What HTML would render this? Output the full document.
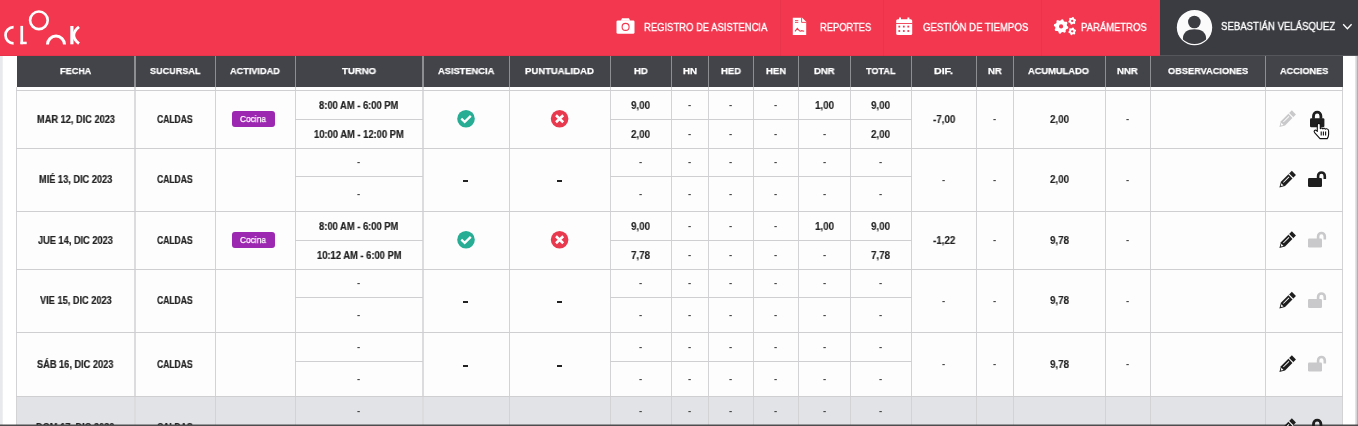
<!DOCTYPE html><html><head><meta charset="utf-8"><style>
*{margin:0;padding:0;box-sizing:border-box}
html,body{width:1358px;height:426px;overflow:hidden;background:#fff;font-family:"Liberation Sans",sans-serif}
.t{position:absolute;white-space:nowrap;transform-origin:0 50%;-webkit-font-smoothing:antialiased;will-change:transform}
.a{position:absolute}
</style></head><body>
<div class="a" style="left:0;top:56px;width:3px;height:370px;background:linear-gradient(90deg,#e8e9ec 60%,#f3f3f5)"></div>
<div class="a" style="left:1355px;top:56px;width:3px;height:370px;background:linear-gradient(90deg,#ebebee,#d0d0d3 60%,#9a9a9d)"></div>
<div class="a" style="left:16px;top:90px;width:1327px;height:336px;background:#fdfdfd"></div>
<div class="a" style="left:16px;top:396px;width:1327px;height:30px;background:#e2e3e6"></div>
<div class="a" style="left:17px;top:56px;width:1326px;height:31px;background:#43444a"></div>
<div class="a" style="left:134px;top:56px;width:2px;height:31px;background:#8d8e92"></div>
<div class="a" style="left:215px;top:56px;width:1px;height:31px;background:#8d8e92"></div>
<div class="a" style="left:295px;top:56px;width:1px;height:31px;background:#8d8e92"></div>
<div class="a" style="left:422px;top:56px;width:2px;height:31px;background:#8d8e92"></div>
<div class="a" style="left:509px;top:56px;width:1px;height:31px;background:#8d8e92"></div>
<div class="a" style="left:610px;top:56px;width:1px;height:31px;background:#8d8e92"></div>
<div class="a" style="left:671px;top:56px;width:1px;height:31px;background:#8d8e92"></div>
<div class="a" style="left:708px;top:56px;width:1px;height:31px;background:#8d8e92"></div>
<div class="a" style="left:753px;top:56px;width:1px;height:31px;background:#8d8e92"></div>
<div class="a" style="left:798px;top:56px;width:1px;height:31px;background:#8d8e92"></div>
<div class="a" style="left:850px;top:56px;width:1px;height:31px;background:#8d8e92"></div>
<div class="a" style="left:911px;top:56px;width:1px;height:31px;background:#8d8e92"></div>
<div class="a" style="left:976px;top:56px;width:1px;height:31px;background:#8d8e92"></div>
<div class="a" style="left:1013px;top:56px;width:1px;height:31px;background:#8d8e92"></div>
<div class="a" style="left:1105px;top:56px;width:1px;height:31px;background:#8d8e92"></div>
<div class="a" style="left:1150px;top:56px;width:1px;height:31px;background:#8d8e92"></div>
<div class="a" style="left:1265px;top:56px;width:1px;height:31px;background:#8d8e92"></div>
<div class="a" style="left:16px;top:87px;width:1px;height:339px;background:#d3d3d6"></div>
<div class="a" style="left:134px;top:87px;width:2px;height:339px;background:#dcdcdf"></div>
<div class="a" style="left:215px;top:87px;width:1px;height:339px;background:#d3d3d6"></div>
<div class="a" style="left:295px;top:87px;width:1px;height:339px;background:#d3d3d6"></div>
<div class="a" style="left:422px;top:87px;width:2px;height:339px;background:#dcdcdf"></div>
<div class="a" style="left:509px;top:87px;width:1px;height:339px;background:#d3d3d6"></div>
<div class="a" style="left:610px;top:87px;width:1px;height:339px;background:#d3d3d6"></div>
<div class="a" style="left:671px;top:87px;width:1px;height:339px;background:#d3d3d6"></div>
<div class="a" style="left:708px;top:87px;width:1px;height:339px;background:#d3d3d6"></div>
<div class="a" style="left:753px;top:87px;width:1px;height:339px;background:#d3d3d6"></div>
<div class="a" style="left:798px;top:87px;width:1px;height:339px;background:#d3d3d6"></div>
<div class="a" style="left:850px;top:87px;width:1px;height:339px;background:#d3d3d6"></div>
<div class="a" style="left:911px;top:87px;width:1px;height:339px;background:#d3d3d6"></div>
<div class="a" style="left:976px;top:87px;width:1px;height:339px;background:#d3d3d6"></div>
<div class="a" style="left:1013px;top:87px;width:1px;height:339px;background:#d3d3d6"></div>
<div class="a" style="left:1105px;top:87px;width:1px;height:339px;background:#d3d3d6"></div>
<div class="a" style="left:1150px;top:87px;width:1px;height:339px;background:#d3d3d6"></div>
<div class="a" style="left:1265px;top:87px;width:1px;height:339px;background:#d3d3d6"></div>
<div class="a" style="left:1342px;top:87px;width:1px;height:339px;background:#d3d3d6"></div>
<div class="a" style="left:16px;top:90px;width:1327px;height:1px;background:#cfcfd2"></div>
<div class="a" style="left:295px;top:119px;width:128px;height:1px;background:#cfcfd2"></div>
<div class="a" style="left:610px;top:119px;width:302px;height:1px;background:#cfcfd2"></div>
<div class="a" style="left:16px;top:148px;width:1327px;height:1px;background:#cfcfd2"></div>
<div class="a" style="left:295px;top:176px;width:128px;height:1px;background:#cfcfd2"></div>
<div class="a" style="left:610px;top:176px;width:302px;height:1px;background:#cfcfd2"></div>
<div class="a" style="left:16px;top:211px;width:1327px;height:1px;background:#cfcfd2"></div>
<div class="a" style="left:295px;top:240px;width:128px;height:1px;background:#cfcfd2"></div>
<div class="a" style="left:610px;top:240px;width:302px;height:1px;background:#cfcfd2"></div>
<div class="a" style="left:16px;top:269px;width:1327px;height:1px;background:#cfcfd2"></div>
<div class="a" style="left:295px;top:297px;width:128px;height:1px;background:#cfcfd2"></div>
<div class="a" style="left:610px;top:297px;width:302px;height:1px;background:#cfcfd2"></div>
<div class="a" style="left:16px;top:332px;width:1327px;height:1px;background:#cfcfd2"></div>
<div class="a" style="left:295px;top:361px;width:128px;height:1px;background:#cfcfd2"></div>
<div class="a" style="left:610px;top:361px;width:302px;height:1px;background:#cfcfd2"></div>
<div class="a" style="left:16px;top:396px;width:1327px;height:1px;background:#cfcfd2"></div>
<div class="a" style="left:295px;top:425px;width:128px;height:1px;background:#cfcfd2"></div>
<div class="a" style="left:610px;top:425px;width:302px;height:1px;background:#cfcfd2"></div>
<div class="t" style="left:60.00px;top:66.46px;font-size:9.7px;line-height:10.83px;font-weight:700;color:#fff;transform:scaleX(0.9397);-webkit-text-stroke:0.25px #fff">FECHA</div>
<div class="t" style="left:149.90px;top:66.46px;font-size:9.7px;line-height:10.83px;font-weight:700;color:#fff;transform:scaleX(0.9354);-webkit-text-stroke:0.25px #fff">SUCURSAL</div>
<div class="t" style="left:230.20px;top:66.46px;font-size:9.7px;line-height:10.83px;font-weight:700;color:#fff;transform:scaleX(0.9448);-webkit-text-stroke:0.25px #fff">ACTIVIDAD</div>
<div class="t" style="left:342.00px;top:66.46px;font-size:9.7px;line-height:10.83px;font-weight:700;color:#fff;transform:scaleX(0.9860);-webkit-text-stroke:0.25px #fff">TURNO</div>
<div class="t" style="left:437.50px;top:66.46px;font-size:9.7px;line-height:10.83px;font-weight:700;color:#fff;transform:scaleX(0.9586);-webkit-text-stroke:0.25px #fff">ASISTENCIA</div>
<div class="t" style="left:525.40px;top:66.46px;font-size:9.7px;line-height:10.83px;font-weight:700;color:#fff;transform:scaleX(0.9838);-webkit-text-stroke:0.25px #fff">PUNTUALIDAD</div>
<div class="t" style="left:633.60px;top:66.46px;font-size:9.7px;line-height:10.83px;font-weight:700;color:#fff;transform:scaleX(0.9774);-webkit-text-stroke:0.25px #fff">HD</div>
<div class="t" style="left:682.60px;top:66.46px;font-size:9.7px;line-height:10.83px;font-weight:700;color:#fff;transform:scaleX(1.0060);-webkit-text-stroke:0.25px #fff">HN</div>
<div class="t" style="left:720.80px;top:66.46px;font-size:9.7px;line-height:10.83px;font-weight:700;color:#fff;transform:scaleX(0.9772);-webkit-text-stroke:0.25px #fff">HED</div>
<div class="t" style="left:765.50px;top:66.46px;font-size:9.7px;line-height:10.83px;font-weight:700;color:#fff;transform:scaleX(0.9821);-webkit-text-stroke:0.25px #fff">HEN</div>
<div class="t" style="left:814.20px;top:66.46px;font-size:9.7px;line-height:10.83px;font-weight:700;color:#fff;transform:scaleX(0.9762);-webkit-text-stroke:0.25px #fff">DNR</div>
<div class="t" style="left:866.00px;top:66.46px;font-size:9.7px;line-height:10.83px;font-weight:700;color:#fff;transform:scaleX(0.9387);-webkit-text-stroke:0.25px #fff">TOTAL</div>
<div class="t" style="left:934.30px;top:66.46px;font-size:9.7px;line-height:10.83px;font-weight:700;color:#fff;transform:scaleX(1.0946);-webkit-text-stroke:0.25px #fff">DIF.</div>
<div class="t" style="left:987.80px;top:66.46px;font-size:9.7px;line-height:10.83px;font-weight:700;color:#fff;transform:scaleX(0.9774);-webkit-text-stroke:0.25px #fff">NR</div>
<div class="t" style="left:1028.10px;top:66.46px;font-size:9.7px;line-height:10.83px;font-weight:700;color:#fff;transform:scaleX(0.9594);-webkit-text-stroke:0.25px #fff">ACUMULADO</div>
<div class="t" style="left:1117.40px;top:66.46px;font-size:9.7px;line-height:10.83px;font-weight:700;color:#fff;transform:scaleX(0.9857);-webkit-text-stroke:0.25px #fff">NNR</div>
<div class="t" style="left:1168.00px;top:66.46px;font-size:9.7px;line-height:10.83px;font-weight:700;color:#fff;transform:scaleX(0.9520);-webkit-text-stroke:0.25px #fff">OBSERVACIONES</div>
<div class="t" style="left:1279.50px;top:66.46px;font-size:9.7px;line-height:10.83px;font-weight:700;color:#fff;transform:scaleX(0.9431);-webkit-text-stroke:0.25px #fff">ACCIONES</div>
<div class="t" style="left:36.50px;top:113.67px;font-size:10.4px;line-height:11.62px;font-weight:700;color:#222;transform:scaleX(0.8876);-webkit-text-stroke:0.2px #222">MAR 12, DIC 2023</div>
<div class="t" style="left:157.15px;top:113.67px;font-size:10.4px;line-height:11.62px;font-weight:700;color:#222;transform:scaleX(0.8242);-webkit-text-stroke:0.2px #222">CALDAS</div>
<div class="a" style="left:232px;top:110.9px;width:43px;height:16px;border-radius:3px;background:#9c27b0"></div>
<div class="t" style="left:239.80px;top:114.04px;font-size:9.2px;line-height:10.28px;font-weight:400;color:#fff;transform:scaleX(0.9073);-webkit-text-stroke:0.25px #fff">Cocina</div>
<div class="t" style="left:319.30px;top:99.75px;font-size:10.6px;line-height:11.84px;font-weight:700;color:#222;transform:scaleX(0.8849);-webkit-text-stroke:0.2px #222">8:00 AM - 6:00 PM</div>
<div class="t" style="left:314.07px;top:128.75px;font-size:10.6px;line-height:11.84px;font-weight:700;color:#222;transform:scaleX(0.8849);-webkit-text-stroke:0.2px #222">10:00 AM - 12:00 PM</div>
<div class="t" style="left:631.45px;top:100.01px;font-size:10.5px;line-height:11.73px;font-weight:700;color:#222;transform:scaleX(0.9352);-webkit-text-stroke:0.1px #222">9,00</div>
<div class="t" style="left:631.45px;top:129.01px;font-size:10.5px;line-height:11.73px;font-weight:700;color:#222;transform:scaleX(0.9352);-webkit-text-stroke:0.1px #222">2,00</div>
<div class="t" style="left:688.39px;top:99.61px;font-size:9.6px;line-height:10.72px;font-weight:700;color:#444;transform:scaleX(1.0000);">-</div>
<div class="t" style="left:688.39px;top:128.61px;font-size:9.6px;line-height:10.72px;font-weight:700;color:#444;transform:scaleX(1.0000);">-</div>
<div class="t" style="left:729.39px;top:99.61px;font-size:9.6px;line-height:10.72px;font-weight:700;color:#444;transform:scaleX(1.0000);">-</div>
<div class="t" style="left:729.39px;top:128.61px;font-size:9.6px;line-height:10.72px;font-weight:700;color:#444;transform:scaleX(1.0000);">-</div>
<div class="t" style="left:774.39px;top:99.61px;font-size:9.6px;line-height:10.72px;font-weight:700;color:#444;transform:scaleX(1.0000);">-</div>
<div class="t" style="left:774.39px;top:128.61px;font-size:9.6px;line-height:10.72px;font-weight:700;color:#444;transform:scaleX(1.0000);">-</div>
<div class="t" style="left:814.95px;top:100.01px;font-size:10.5px;line-height:11.73px;font-weight:700;color:#222;transform:scaleX(0.9352);-webkit-text-stroke:0.1px #222">1,00</div>
<div class="t" style="left:822.89px;top:128.61px;font-size:9.6px;line-height:10.72px;font-weight:700;color:#444;transform:scaleX(1.0000);">-</div>
<div class="t" style="left:871.45px;top:100.01px;font-size:10.5px;line-height:11.73px;font-weight:700;color:#222;transform:scaleX(0.9352);-webkit-text-stroke:0.1px #222">9,00</div>
<div class="t" style="left:871.45px;top:129.01px;font-size:10.5px;line-height:11.73px;font-weight:700;color:#222;transform:scaleX(0.9352);-webkit-text-stroke:0.1px #222">2,00</div>
<div class="t" style="left:932.81px;top:113.71px;font-size:10.5px;line-height:11.73px;font-weight:700;color:#222;transform:scaleX(0.9352);-webkit-text-stroke:0.1px #222">-7,00</div>
<div class="t" style="left:993.39px;top:114.11px;font-size:9.6px;line-height:10.72px;font-weight:700;color:#444;transform:scaleX(1.0000);">-</div>
<div class="t" style="left:1049.95px;top:113.71px;font-size:10.5px;line-height:11.73px;font-weight:700;color:#222;transform:scaleX(0.9352);-webkit-text-stroke:0.1px #222">2,00</div>
<div class="t" style="left:1126.39px;top:114.11px;font-size:9.6px;line-height:10.72px;font-weight:700;color:#444;transform:scaleX(1.0000);">-</div>
<div class="t" style="left:38.81px;top:174.17px;font-size:10.4px;line-height:11.62px;font-weight:700;color:#222;transform:scaleX(0.8876);-webkit-text-stroke:0.2px #222">MIÉ 13, DIC 2023</div>
<div class="t" style="left:157.15px;top:174.17px;font-size:10.4px;line-height:11.62px;font-weight:700;color:#222;transform:scaleX(0.8242);-webkit-text-stroke:0.2px #222">CALDAS</div>
<div class="t" style="left:357.39px;top:157.11px;font-size:9.6px;line-height:10.72px;font-weight:700;color:#444;transform:scaleX(1.0000);">-</div>
<div class="t" style="left:357.39px;top:188.61px;font-size:9.6px;line-height:10.72px;font-weight:700;color:#444;transform:scaleX(1.0000);">-</div>
<div class="a" style="left:463px;top:180.2px;width:5px;height:2px;background:#222"></div>
<div class="a" style="left:557px;top:180.2px;width:5px;height:2px;background:#222"></div>
<div class="t" style="left:639.39px;top:157.11px;font-size:9.6px;line-height:10.72px;font-weight:700;color:#444;transform:scaleX(1.0000);">-</div>
<div class="t" style="left:639.39px;top:188.61px;font-size:9.6px;line-height:10.72px;font-weight:700;color:#444;transform:scaleX(1.0000);">-</div>
<div class="t" style="left:688.39px;top:157.11px;font-size:9.6px;line-height:10.72px;font-weight:700;color:#444;transform:scaleX(1.0000);">-</div>
<div class="t" style="left:688.39px;top:188.61px;font-size:9.6px;line-height:10.72px;font-weight:700;color:#444;transform:scaleX(1.0000);">-</div>
<div class="t" style="left:729.39px;top:157.11px;font-size:9.6px;line-height:10.72px;font-weight:700;color:#444;transform:scaleX(1.0000);">-</div>
<div class="t" style="left:729.39px;top:188.61px;font-size:9.6px;line-height:10.72px;font-weight:700;color:#444;transform:scaleX(1.0000);">-</div>
<div class="t" style="left:774.39px;top:157.11px;font-size:9.6px;line-height:10.72px;font-weight:700;color:#444;transform:scaleX(1.0000);">-</div>
<div class="t" style="left:774.39px;top:188.61px;font-size:9.6px;line-height:10.72px;font-weight:700;color:#444;transform:scaleX(1.0000);">-</div>
<div class="t" style="left:822.89px;top:157.11px;font-size:9.6px;line-height:10.72px;font-weight:700;color:#444;transform:scaleX(1.0000);">-</div>
<div class="t" style="left:822.89px;top:188.61px;font-size:9.6px;line-height:10.72px;font-weight:700;color:#444;transform:scaleX(1.0000);">-</div>
<div class="t" style="left:879.39px;top:157.11px;font-size:9.6px;line-height:10.72px;font-weight:700;color:#444;transform:scaleX(1.0000);">-</div>
<div class="t" style="left:879.39px;top:188.61px;font-size:9.6px;line-height:10.72px;font-weight:700;color:#444;transform:scaleX(1.0000);">-</div>
<div class="t" style="left:942.39px;top:174.61px;font-size:9.6px;line-height:10.72px;font-weight:700;color:#444;transform:scaleX(1.0000);">-</div>
<div class="t" style="left:993.39px;top:174.61px;font-size:9.6px;line-height:10.72px;font-weight:700;color:#444;transform:scaleX(1.0000);">-</div>
<div class="t" style="left:1049.95px;top:174.21px;font-size:10.5px;line-height:11.73px;font-weight:700;color:#222;transform:scaleX(0.9352);-webkit-text-stroke:0.1px #222">2,00</div>
<div class="t" style="left:1126.39px;top:174.61px;font-size:9.6px;line-height:10.72px;font-weight:700;color:#444;transform:scaleX(1.0000);">-</div>
<div class="t" style="left:38.05px;top:234.67px;font-size:10.4px;line-height:11.62px;font-weight:700;color:#222;transform:scaleX(0.8876);-webkit-text-stroke:0.2px #222">JUE 14, DIC 2023</div>
<div class="t" style="left:157.15px;top:234.67px;font-size:10.4px;line-height:11.62px;font-weight:700;color:#222;transform:scaleX(0.8242);-webkit-text-stroke:0.2px #222">CALDAS</div>
<div class="a" style="left:232px;top:231.9px;width:43px;height:16px;border-radius:3px;background:#9c27b0"></div>
<div class="t" style="left:239.80px;top:235.04px;font-size:9.2px;line-height:10.28px;font-weight:400;color:#fff;transform:scaleX(0.9073);-webkit-text-stroke:0.25px #fff">Cocina</div>
<div class="t" style="left:319.30px;top:220.75px;font-size:10.6px;line-height:11.84px;font-weight:700;color:#222;transform:scaleX(0.8849);-webkit-text-stroke:0.2px #222">8:00 AM - 6:00 PM</div>
<div class="t" style="left:316.70px;top:249.75px;font-size:10.6px;line-height:11.84px;font-weight:700;color:#222;transform:scaleX(0.8849);-webkit-text-stroke:0.2px #222">10:12 AM - 6:00 PM</div>
<div class="t" style="left:631.45px;top:221.01px;font-size:10.5px;line-height:11.73px;font-weight:700;color:#222;transform:scaleX(0.9352);-webkit-text-stroke:0.1px #222">9,00</div>
<div class="t" style="left:631.45px;top:250.01px;font-size:10.5px;line-height:11.73px;font-weight:700;color:#222;transform:scaleX(0.9352);-webkit-text-stroke:0.1px #222">7,78</div>
<div class="t" style="left:688.39px;top:220.61px;font-size:9.6px;line-height:10.72px;font-weight:700;color:#444;transform:scaleX(1.0000);">-</div>
<div class="t" style="left:688.39px;top:249.61px;font-size:9.6px;line-height:10.72px;font-weight:700;color:#444;transform:scaleX(1.0000);">-</div>
<div class="t" style="left:729.39px;top:220.61px;font-size:9.6px;line-height:10.72px;font-weight:700;color:#444;transform:scaleX(1.0000);">-</div>
<div class="t" style="left:729.39px;top:249.61px;font-size:9.6px;line-height:10.72px;font-weight:700;color:#444;transform:scaleX(1.0000);">-</div>
<div class="t" style="left:774.39px;top:220.61px;font-size:9.6px;line-height:10.72px;font-weight:700;color:#444;transform:scaleX(1.0000);">-</div>
<div class="t" style="left:774.39px;top:249.61px;font-size:9.6px;line-height:10.72px;font-weight:700;color:#444;transform:scaleX(1.0000);">-</div>
<div class="t" style="left:814.95px;top:221.01px;font-size:10.5px;line-height:11.73px;font-weight:700;color:#222;transform:scaleX(0.9352);-webkit-text-stroke:0.1px #222">1,00</div>
<div class="t" style="left:822.89px;top:249.61px;font-size:9.6px;line-height:10.72px;font-weight:700;color:#444;transform:scaleX(1.0000);">-</div>
<div class="t" style="left:871.45px;top:221.01px;font-size:10.5px;line-height:11.73px;font-weight:700;color:#222;transform:scaleX(0.9352);-webkit-text-stroke:0.1px #222">9,00</div>
<div class="t" style="left:871.45px;top:250.01px;font-size:10.5px;line-height:11.73px;font-weight:700;color:#222;transform:scaleX(0.9352);-webkit-text-stroke:0.1px #222">7,78</div>
<div class="t" style="left:932.81px;top:234.71px;font-size:10.5px;line-height:11.73px;font-weight:700;color:#222;transform:scaleX(0.9352);-webkit-text-stroke:0.1px #222">-1,22</div>
<div class="t" style="left:993.39px;top:235.11px;font-size:9.6px;line-height:10.72px;font-weight:700;color:#444;transform:scaleX(1.0000);">-</div>
<div class="t" style="left:1049.95px;top:234.71px;font-size:10.5px;line-height:11.73px;font-weight:700;color:#222;transform:scaleX(0.9352);-webkit-text-stroke:0.1px #222">9,78</div>
<div class="t" style="left:1126.39px;top:235.11px;font-size:9.6px;line-height:10.72px;font-weight:700;color:#444;transform:scaleX(1.0000);">-</div>
<div class="t" style="left:39.59px;top:295.17px;font-size:10.4px;line-height:11.62px;font-weight:700;color:#222;transform:scaleX(0.8876);-webkit-text-stroke:0.2px #222">VIE 15, DIC 2023</div>
<div class="t" style="left:157.15px;top:295.17px;font-size:10.4px;line-height:11.62px;font-weight:700;color:#222;transform:scaleX(0.8242);-webkit-text-stroke:0.2px #222">CALDAS</div>
<div class="t" style="left:357.39px;top:278.11px;font-size:9.6px;line-height:10.72px;font-weight:700;color:#444;transform:scaleX(1.0000);">-</div>
<div class="t" style="left:357.39px;top:309.61px;font-size:9.6px;line-height:10.72px;font-weight:700;color:#444;transform:scaleX(1.0000);">-</div>
<div class="a" style="left:463px;top:301.2px;width:5px;height:2px;background:#222"></div>
<div class="a" style="left:557px;top:301.2px;width:5px;height:2px;background:#222"></div>
<div class="t" style="left:639.39px;top:278.11px;font-size:9.6px;line-height:10.72px;font-weight:700;color:#444;transform:scaleX(1.0000);">-</div>
<div class="t" style="left:639.39px;top:309.61px;font-size:9.6px;line-height:10.72px;font-weight:700;color:#444;transform:scaleX(1.0000);">-</div>
<div class="t" style="left:688.39px;top:278.11px;font-size:9.6px;line-height:10.72px;font-weight:700;color:#444;transform:scaleX(1.0000);">-</div>
<div class="t" style="left:688.39px;top:309.61px;font-size:9.6px;line-height:10.72px;font-weight:700;color:#444;transform:scaleX(1.0000);">-</div>
<div class="t" style="left:729.39px;top:278.11px;font-size:9.6px;line-height:10.72px;font-weight:700;color:#444;transform:scaleX(1.0000);">-</div>
<div class="t" style="left:729.39px;top:309.61px;font-size:9.6px;line-height:10.72px;font-weight:700;color:#444;transform:scaleX(1.0000);">-</div>
<div class="t" style="left:774.39px;top:278.11px;font-size:9.6px;line-height:10.72px;font-weight:700;color:#444;transform:scaleX(1.0000);">-</div>
<div class="t" style="left:774.39px;top:309.61px;font-size:9.6px;line-height:10.72px;font-weight:700;color:#444;transform:scaleX(1.0000);">-</div>
<div class="t" style="left:822.89px;top:278.11px;font-size:9.6px;line-height:10.72px;font-weight:700;color:#444;transform:scaleX(1.0000);">-</div>
<div class="t" style="left:822.89px;top:309.61px;font-size:9.6px;line-height:10.72px;font-weight:700;color:#444;transform:scaleX(1.0000);">-</div>
<div class="t" style="left:879.39px;top:278.11px;font-size:9.6px;line-height:10.72px;font-weight:700;color:#444;transform:scaleX(1.0000);">-</div>
<div class="t" style="left:879.39px;top:309.61px;font-size:9.6px;line-height:10.72px;font-weight:700;color:#444;transform:scaleX(1.0000);">-</div>
<div class="t" style="left:942.39px;top:295.61px;font-size:9.6px;line-height:10.72px;font-weight:700;color:#444;transform:scaleX(1.0000);">-</div>
<div class="t" style="left:993.39px;top:295.61px;font-size:9.6px;line-height:10.72px;font-weight:700;color:#444;transform:scaleX(1.0000);">-</div>
<div class="t" style="left:1049.95px;top:295.21px;font-size:10.5px;line-height:11.73px;font-weight:700;color:#222;transform:scaleX(0.9352);-webkit-text-stroke:0.1px #222">9,78</div>
<div class="t" style="left:1126.39px;top:295.61px;font-size:9.6px;line-height:10.72px;font-weight:700;color:#444;transform:scaleX(1.0000);">-</div>
<div class="t" style="left:37.28px;top:358.67px;font-size:10.4px;line-height:11.62px;font-weight:700;color:#222;transform:scaleX(0.8876);-webkit-text-stroke:0.2px #222">SÁB 16, DIC 2023</div>
<div class="t" style="left:157.15px;top:358.67px;font-size:10.4px;line-height:11.62px;font-weight:700;color:#222;transform:scaleX(0.8242);-webkit-text-stroke:0.2px #222">CALDAS</div>
<div class="t" style="left:357.39px;top:341.61px;font-size:9.6px;line-height:10.72px;font-weight:700;color:#444;transform:scaleX(1.0000);">-</div>
<div class="t" style="left:357.39px;top:373.61px;font-size:9.6px;line-height:10.72px;font-weight:700;color:#444;transform:scaleX(1.0000);">-</div>
<div class="a" style="left:463px;top:364.7px;width:5px;height:2px;background:#222"></div>
<div class="a" style="left:557px;top:364.7px;width:5px;height:2px;background:#222"></div>
<div class="t" style="left:639.39px;top:341.61px;font-size:9.6px;line-height:10.72px;font-weight:700;color:#444;transform:scaleX(1.0000);">-</div>
<div class="t" style="left:639.39px;top:373.61px;font-size:9.6px;line-height:10.72px;font-weight:700;color:#444;transform:scaleX(1.0000);">-</div>
<div class="t" style="left:688.39px;top:341.61px;font-size:9.6px;line-height:10.72px;font-weight:700;color:#444;transform:scaleX(1.0000);">-</div>
<div class="t" style="left:688.39px;top:373.61px;font-size:9.6px;line-height:10.72px;font-weight:700;color:#444;transform:scaleX(1.0000);">-</div>
<div class="t" style="left:729.39px;top:341.61px;font-size:9.6px;line-height:10.72px;font-weight:700;color:#444;transform:scaleX(1.0000);">-</div>
<div class="t" style="left:729.39px;top:373.61px;font-size:9.6px;line-height:10.72px;font-weight:700;color:#444;transform:scaleX(1.0000);">-</div>
<div class="t" style="left:774.39px;top:341.61px;font-size:9.6px;line-height:10.72px;font-weight:700;color:#444;transform:scaleX(1.0000);">-</div>
<div class="t" style="left:774.39px;top:373.61px;font-size:9.6px;line-height:10.72px;font-weight:700;color:#444;transform:scaleX(1.0000);">-</div>
<div class="t" style="left:822.89px;top:341.61px;font-size:9.6px;line-height:10.72px;font-weight:700;color:#444;transform:scaleX(1.0000);">-</div>
<div class="t" style="left:822.89px;top:373.61px;font-size:9.6px;line-height:10.72px;font-weight:700;color:#444;transform:scaleX(1.0000);">-</div>
<div class="t" style="left:879.39px;top:341.61px;font-size:9.6px;line-height:10.72px;font-weight:700;color:#444;transform:scaleX(1.0000);">-</div>
<div class="t" style="left:879.39px;top:373.61px;font-size:9.6px;line-height:10.72px;font-weight:700;color:#444;transform:scaleX(1.0000);">-</div>
<div class="t" style="left:942.39px;top:359.11px;font-size:9.6px;line-height:10.72px;font-weight:700;color:#444;transform:scaleX(1.0000);">-</div>
<div class="t" style="left:993.39px;top:359.11px;font-size:9.6px;line-height:10.72px;font-weight:700;color:#444;transform:scaleX(1.0000);">-</div>
<div class="t" style="left:1049.95px;top:358.71px;font-size:10.5px;line-height:11.73px;font-weight:700;color:#222;transform:scaleX(0.9352);-webkit-text-stroke:0.1px #222">9,78</div>
<div class="t" style="left:1126.39px;top:359.11px;font-size:9.6px;line-height:10.72px;font-weight:700;color:#444;transform:scaleX(1.0000);">-</div>
<div class="t" style="left:36.25px;top:421.67px;font-size:10.4px;line-height:11.62px;font-weight:700;color:#222;transform:scaleX(0.8876);-webkit-text-stroke:0.2px #222">DOM 17, DIC 2023</div>
<div class="t" style="left:157.15px;top:421.67px;font-size:10.4px;line-height:11.62px;font-weight:700;color:#222;transform:scaleX(0.8242);-webkit-text-stroke:0.2px #222">CALDAS</div>
<div class="t" style="left:357.39px;top:405.61px;font-size:9.6px;line-height:10.72px;font-weight:700;color:#444;transform:scaleX(1.0000);">-</div>
<div class="t" style="left:357.39px;top:436.61px;font-size:9.6px;line-height:10.72px;font-weight:700;color:#444;transform:scaleX(1.0000);">-</div>
<div class="a" style="left:463px;top:427.7px;width:5px;height:2px;background:#222"></div>
<div class="a" style="left:557px;top:427.7px;width:5px;height:2px;background:#222"></div>
<div class="t" style="left:639.39px;top:405.61px;font-size:9.6px;line-height:10.72px;font-weight:700;color:#444;transform:scaleX(1.0000);">-</div>
<div class="t" style="left:639.39px;top:436.61px;font-size:9.6px;line-height:10.72px;font-weight:700;color:#444;transform:scaleX(1.0000);">-</div>
<div class="t" style="left:688.39px;top:405.61px;font-size:9.6px;line-height:10.72px;font-weight:700;color:#444;transform:scaleX(1.0000);">-</div>
<div class="t" style="left:688.39px;top:436.61px;font-size:9.6px;line-height:10.72px;font-weight:700;color:#444;transform:scaleX(1.0000);">-</div>
<div class="t" style="left:729.39px;top:405.61px;font-size:9.6px;line-height:10.72px;font-weight:700;color:#444;transform:scaleX(1.0000);">-</div>
<div class="t" style="left:729.39px;top:436.61px;font-size:9.6px;line-height:10.72px;font-weight:700;color:#444;transform:scaleX(1.0000);">-</div>
<div class="t" style="left:774.39px;top:405.61px;font-size:9.6px;line-height:10.72px;font-weight:700;color:#444;transform:scaleX(1.0000);">-</div>
<div class="t" style="left:774.39px;top:436.61px;font-size:9.6px;line-height:10.72px;font-weight:700;color:#444;transform:scaleX(1.0000);">-</div>
<div class="t" style="left:822.89px;top:405.61px;font-size:9.6px;line-height:10.72px;font-weight:700;color:#444;transform:scaleX(1.0000);">-</div>
<div class="t" style="left:822.89px;top:436.61px;font-size:9.6px;line-height:10.72px;font-weight:700;color:#444;transform:scaleX(1.0000);">-</div>
<div class="t" style="left:879.39px;top:405.61px;font-size:9.6px;line-height:10.72px;font-weight:700;color:#444;transform:scaleX(1.0000);">-</div>
<div class="t" style="left:879.39px;top:436.61px;font-size:9.6px;line-height:10.72px;font-weight:700;color:#444;transform:scaleX(1.0000);">-</div>
<div class="a" style="left:0;top:424px;width:1358px;height:1px;background:rgba(60,60,62,0.45)"></div><div class="a" style="left:0;top:425px;width:1358px;height:1px;background:#4d4d4f"></div>
<div class="a" style="left:0;top:0;width:1358px;height:56px;background:#f2374f"></div>
<div class="a" style="left:1160px;top:0;width:198px;height:56px;background:#3b3c41"></div>
<div class="a" style="left:0;top:55px;width:1160px;height:1px;background:rgba(0,0,0,0.04)"></div>
<div class="a" style="left:1160px;top:55px;width:198px;height:1px;background:#55565b"></div>
<div class="a" style="left:780px;top:0;width:1px;height:56px;background:rgba(0,0,0,0.035)"></div>
<div class="a" style="left:883px;top:0;width:1px;height:56px;background:rgba(0,0,0,0.035)"></div>
<div class="a" style="left:1041px;top:0;width:1px;height:56px;background:rgba(0,0,0,0.035)"></div>
<div class="t" style="left:644.20px;top:20.66px;font-size:11.3px;line-height:12.62px;font-weight:400;color:#fff;transform:scaleX(0.8362);-webkit-text-stroke:0.35px #fff">REGISTRO DE ASISTENCIA</div>
<div class="t" style="left:819.60px;top:20.66px;font-size:11.3px;line-height:12.62px;font-weight:400;color:#fff;transform:scaleX(0.8261);-webkit-text-stroke:0.35px #fff">REPORTES</div>
<div class="t" style="left:922.90px;top:20.66px;font-size:11.3px;line-height:12.62px;font-weight:400;color:#fff;transform:scaleX(0.8526);-webkit-text-stroke:0.35px #fff">GESTIÓN DE TIEMPOS</div>
<div class="t" style="left:1080.70px;top:20.66px;font-size:11.3px;line-height:12.62px;font-weight:400;color:#fff;transform:scaleX(0.8396);-webkit-text-stroke:0.35px #fff">PARÁMETROS</div>
<div class="t" style="left:1221.00px;top:20.12px;font-size:11.2px;line-height:12.51px;font-weight:400;color:#fff;transform:scaleX(0.8580);-webkit-text-stroke:0.35px #fff">SEBASTIÁN VELÁSQUEZ</div>
<svg class="a" style="left:0;top:0" width="1358" height="426" viewBox="0 0 1358 426"><circle cx="466" cy="118.7" r="8.8" fill="#26ad94"/><path d="M461.3,118.6 L464.7,121.9 L470.8,115.9" fill="none" stroke="#fff" stroke-width="2.3"/><circle cx="559.6" cy="118.7" r="8.8" fill="#e8394f"/><path d="M556.0,115.2 L563.2,122.2 M563.2,115.2 L556.0,122.2" fill="none" stroke="#fff" stroke-width="2.6"/><g transform="translate(1279.4,126.9) rotate(-45)"><path d="M0,0 L5,-2.9 L20.5,-2.9 L20.5,2.9 L5,2.9 Z" fill="#c9c9cb"/><rect x="15.6" y="-3.2" width="1.1" height="6.4" fill="#fdfdfd"/><rect x="6.2" y="-1.1" width="8" height="0.9" fill="#fdfdfd"/><path d="M1.9,0 L4.3,-1.5 L4.3,1.5 Z" fill="#fdfdfd"/></g><rect x="1310" y="118.2" width="14.4" height="9" rx="1.3" fill="#1e1e1e"/><path d="M1313.5,118.7 V115.9 A3.6,3.6 0 0 1 1320.9,115.9 V118.7" fill="none" stroke="#1e1e1e" stroke-width="2.8"/><g transform="translate(1279.4,187.4) rotate(-45)"><path d="M0,0 L5,-2.9 L20.5,-2.9 L20.5,2.9 L5,2.9 Z" fill="#1e1e1e"/><rect x="15.6" y="-3.2" width="1.1" height="6.4" fill="#fdfdfd"/><rect x="6.2" y="-1.1" width="8" height="0.9" fill="#fdfdfd"/><path d="M1.9,0 L4.3,-1.5 L4.3,1.5 Z" fill="#fdfdfd"/></g><rect x="1308" y="178.0" width="14" height="9.1" rx="1.3" fill="#1e1e1e"/><path d="M1318.1,178.5 V175.9 A3.35,3.35 0 0 1 1324.8,175.9 V178.9" fill="none" stroke="#1e1e1e" stroke-width="2.6"/><circle cx="466" cy="239.7" r="8.8" fill="#26ad94"/><path d="M461.3,239.6 L464.7,242.9 L470.8,236.9" fill="none" stroke="#fff" stroke-width="2.3"/><circle cx="559.6" cy="239.7" r="8.8" fill="#e8394f"/><path d="M556.0,236.2 L563.2,243.2 M563.2,236.2 L556.0,243.2" fill="none" stroke="#fff" stroke-width="2.6"/><g transform="translate(1279.4,247.9) rotate(-45)"><path d="M0,0 L5,-2.9 L20.5,-2.9 L20.5,2.9 L5,2.9 Z" fill="#1e1e1e"/><rect x="15.6" y="-3.2" width="1.1" height="6.4" fill="#fdfdfd"/><rect x="6.2" y="-1.1" width="8" height="0.9" fill="#fdfdfd"/><path d="M1.9,0 L4.3,-1.5 L4.3,1.5 Z" fill="#fdfdfd"/></g><rect x="1308" y="238.5" width="14" height="9.1" rx="1.3" fill="#c9c9cb"/><path d="M1318.1,239.0 V236.4 A3.35,3.35 0 0 1 1324.8,236.4 V239.4" fill="none" stroke="#c9c9cb" stroke-width="2.6"/><g transform="translate(1279.4,308.4) rotate(-45)"><path d="M0,0 L5,-2.9 L20.5,-2.9 L20.5,2.9 L5,2.9 Z" fill="#1e1e1e"/><rect x="15.6" y="-3.2" width="1.1" height="6.4" fill="#fdfdfd"/><rect x="6.2" y="-1.1" width="8" height="0.9" fill="#fdfdfd"/><path d="M1.9,0 L4.3,-1.5 L4.3,1.5 Z" fill="#fdfdfd"/></g><rect x="1308" y="299.0" width="14" height="9.1" rx="1.3" fill="#c9c9cb"/><path d="M1318.1,299.5 V296.9 A3.35,3.35 0 0 1 1324.8,296.9 V299.9" fill="none" stroke="#c9c9cb" stroke-width="2.6"/><g transform="translate(1279.4,371.9) rotate(-45)"><path d="M0,0 L5,-2.9 L20.5,-2.9 L20.5,2.9 L5,2.9 Z" fill="#1e1e1e"/><rect x="15.6" y="-3.2" width="1.1" height="6.4" fill="#fdfdfd"/><rect x="6.2" y="-1.1" width="8" height="0.9" fill="#fdfdfd"/><path d="M1.9,0 L4.3,-1.5 L4.3,1.5 Z" fill="#fdfdfd"/></g><rect x="1308" y="362.5" width="14" height="9.1" rx="1.3" fill="#c9c9cb"/><path d="M1318.1,363.0 V360.4 A3.35,3.35 0 0 1 1324.8,360.4 V363.4" fill="none" stroke="#c9c9cb" stroke-width="2.6"/><g transform="translate(1279.4,434.9) rotate(-45)"><path d="M0,0 L5,-2.9 L20.5,-2.9 L20.5,2.9 L5,2.9 Z" fill="#1e1e1e"/><rect x="15.6" y="-3.2" width="1.1" height="6.4" fill="#fdfdfd"/><rect x="6.2" y="-1.1" width="8" height="0.9" fill="#fdfdfd"/><path d="M1.9,0 L4.3,-1.5 L4.3,1.5 Z" fill="#fdfdfd"/></g><rect x="1310" y="426.2" width="14.4" height="9" rx="1.3" fill="#1e1e1e"/><path d="M1313.5,426.7 V423.9 A3.6,3.6 0 0 1 1320.9,423.9 V426.7" fill="none" stroke="#1e1e1e" stroke-width="2.8"/><path d="M1317.3,125 Q1317.3,123.4 1318.8,123.4 Q1320.3,123.4 1320.3,125 L1320.3,128.6 Q1320.8,127.9 1321.8,128.1 Q1322.6,128.2 1322.8,128.9 Q1323.3,128.1 1324.3,128.3 Q1325.1,128.5 1325.2,129.2 Q1325.7,128.6 1326.7,128.8 Q1328.6,129.2 1328.6,131 L1328.6,134.5 Q1328.6,136.5 1327.2,138.6 L1320,138.6 L1314.6,132.6 Q1313.6,131.3 1314.6,130.4 Q1315.6,129.7 1316.6,130.6 L1317.3,131.4 Z" fill="#fff" stroke="#111" stroke-width="1.1" stroke-linejoin="round"/><path d="M1321.2,131.6 V135.5 M1323.4,131.6 V135.5 M1325.6,131.6 V135.5" stroke="#111" stroke-width="1.1"/><path d="M13.6,27.2 A8.1,8.1 0 0 0 13.6,43.4" fill="none" stroke="#fff" stroke-width="2.7"/><rect x="20.4" y="25.9" width="2.7" height="18.3" fill="#fff"/><rect x="20.4" y="41.7" width="6.3" height="2.5" fill="#fff"/><circle cx="38.9" cy="20.3" r="8.8" fill="none" stroke="#fff" stroke-width="2.6"/><path d="M47.5,44.6 A8.5,8.5 0 0 1 64.5,44.6" fill="none" stroke="#fff" stroke-width="3"/><rect x="70.3" y="26" width="3.2" height="18.3" fill="#fff"/><path d="M79,26.8 Q68.5,35.2 79,43.6" fill="none" stroke="#fff" stroke-width="2.9"/><rect x="616.5" y="20.4" width="18" height="13.4" rx="1.4" fill="#fff"/><path d="M620.8,20.8 L622,18.2 H629 L630.2,20.8 Z" fill="#fff"/><circle cx="625.6" cy="26.9" r="3.5" fill="none" stroke="#f2374f" stroke-width="1.1"/><path d="M792.8,17.8 H802.2 L806.2,21.8 V35 H792.8 Z" fill="#fff"/><path d="M801.6,17.6 V22.4 H806.4" fill="none" stroke="#f2374f" stroke-width="0.9"/><path d="M795,20.6 H798.3 M795,22.4 H798.3" stroke="#f2374f" stroke-width="0.9"/><path d="M795,31.4 L797.3,28.4 L799.5,30.8 Q800.5,31.6 801.6,30.6 L804.2,31.2" fill="none" stroke="#f2374f" stroke-width="1.1"/><rect x="896.2" y="19.2" width="16" height="15.8" rx="1.6" fill="#fff"/><rect x="899" y="17.5" width="2" height="3" fill="#fff"/><rect x="907.4" y="17.5" width="2" height="3" fill="#fff"/><rect x="896" y="23.1" width="16.4" height="0.9" fill="#f2374f"/><rect x="898.4" y="25.700000000000003" width="1.8" height="1.8" fill="#f2374f"/><rect x="898.4" y="30.1" width="1.8" height="1.8" fill="#f2374f"/><rect x="902.9" y="25.700000000000003" width="1.8" height="1.8" fill="#f2374f"/><rect x="902.9" y="30.1" width="1.8" height="1.8" fill="#f2374f"/><rect x="907.4" y="25.700000000000003" width="1.8" height="1.8" fill="#f2374f"/><rect x="907.4" y="30.1" width="1.8" height="1.8" fill="#f2374f"/><path d="M1061.82,19.14 L1063.22,19.41 L1063.88,21.20 L1064.84,21.84 L1066.74,21.77 L1067.54,22.96 L1066.75,24.69 L1066.97,25.82 L1068.36,27.12 L1068.09,28.52 L1066.30,29.18 L1065.66,30.14 L1065.73,32.04 L1064.54,32.84 L1062.81,32.05 L1061.68,32.27 L1060.38,33.66 L1058.98,33.39 L1058.32,31.60 L1057.36,30.96 L1055.46,31.03 L1054.66,29.84 L1055.45,28.11 L1055.23,26.98 L1053.84,25.68 L1054.11,24.28 L1055.90,23.62 L1056.54,22.66 L1056.47,20.76 L1057.66,19.96 L1059.39,20.75 L1060.52,20.53 Z M1063.1999999999998,26.4 A2.1,2.1 0 1 0 1059.0,26.4 A2.1,2.1 0 1 0 1063.1999999999998,26.4 Z" fill="#fff" fill-rule="evenodd"/><path d="M1072.71,17.03 L1073.69,17.30 L1074.09,18.44 L1074.66,19.01 L1075.80,19.41 L1076.07,20.39 L1075.27,21.30 L1075.06,22.09 L1075.29,23.27 L1074.57,23.99 L1073.39,23.76 L1072.60,23.97 L1071.69,24.77 L1070.71,24.50 L1070.31,23.36 L1069.74,22.79 L1068.60,22.39 L1068.33,21.41 L1069.13,20.50 L1069.34,19.71 L1069.11,18.53 L1069.83,17.81 L1071.01,18.04 L1071.80,17.83 Z M1073.3500000000001,20.9 A1.15,1.15 0 1 0 1071.05,20.9 A1.15,1.15 0 1 0 1073.3500000000001,20.9 Z" fill="#fff" fill-rule="evenodd"/><path d="M1072.71,27.43 L1073.69,27.70 L1074.09,28.84 L1074.66,29.41 L1075.80,29.81 L1076.07,30.79 L1075.27,31.70 L1075.06,32.49 L1075.29,33.67 L1074.57,34.39 L1073.39,34.16 L1072.60,34.37 L1071.69,35.17 L1070.71,34.90 L1070.31,33.76 L1069.74,33.19 L1068.60,32.79 L1068.33,31.81 L1069.13,30.90 L1069.34,30.11 L1069.11,28.93 L1069.83,28.21 L1071.01,28.44 L1071.80,28.23 Z M1073.3500000000001,31.3 A1.15,1.15 0 1 0 1071.05,31.3 A1.15,1.15 0 1 0 1073.3500000000001,31.3 Z" fill="#fff" fill-rule="evenodd"/><defs><clipPath id="av"><circle cx="1194.5" cy="27.6" r="16.5"/></clipPath></defs><circle cx="1194.5" cy="27.6" r="17.7" fill="#fbfbfb"/><g clip-path="url(#av)" fill="#3b3c41"><circle cx="1194.35" cy="22" r="6.3"/><path d="M1182.9,46 V38.5 C1182.9,32.5 1187.5,29.3 1194.45,29.3 C1201.4,29.3 1206.1,32.5 1206.1,38.5 V46 Z"/></g><path d="M1343.2,24.2 L1347.4,28.8 L1351.6,24.2" fill="none" stroke="#fff" stroke-width="1.3"/></svg>
</body></html>
